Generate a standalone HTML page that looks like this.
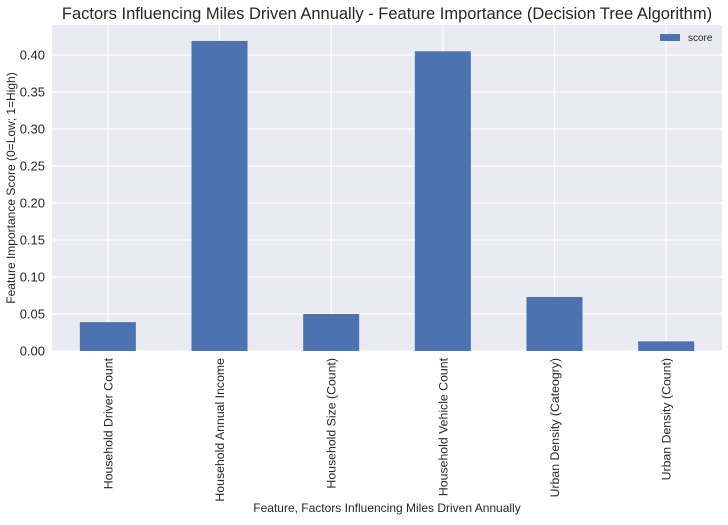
<!DOCTYPE html>
<html><head><meta charset="utf-8"><style>
body{margin:0;background:#fff;font-family:"Liberation Sans",sans-serif;}
svg text{font-family:"Liberation Sans",sans-serif;}
</style></head><body>
<svg id="c" width="728" height="520"></svg>
<script>
const categories=["Household Driver Count","Household Annual Income","Household Size (Count)","Household Vehicle Count","Urban Density (Cateogry)","Urban Density (Count)"];
const scores=[0.039,0.419,0.050,0.405,0.073,0.013];
const yTicks=[0,0.05,0.10,0.15,0.20,0.25,0.30,0.35,0.40];
const yTickLabels=["0.00","0.05","0.10","0.15","0.20","0.25","0.30","0.35","0.40"];
const L=52,R=722,T=25,B=351;
const y=v=>B-v*740;
const bw=(R-L)/categories.length;
const x=i=>L+bw*(i+0.5);
const NS="http://www.w3.org/2000/svg";
const svg=document.getElementById('c');
function mk(tag,a,parent){const e=document.createElementNS(NS,tag);for(const k in a)e.setAttribute(k,a[k]);(parent||svg).appendChild(e);return e;}
const bg=mk('rect',{x:L,y:T,width:R-L,height:B-T,fill:'#eaeaf2'});


yTicks.forEach((t,i)=>{
  const g=mk('line',{x1:L,x2:R,y1:y(t),y2:y(t),stroke:'#fff','stroke-width':1.2});
  
  
  const tx=mk('text',{x:L-7,y:y(t)+4.5,'text-anchor':'end','font-size':13,fill:'#262626'});
  tx.textContent=yTickLabels[i];
  
  
});
categories.forEach((c,i)=>{
  const g=mk('line',{x1:x(i),x2:x(i),y1:T,y2:B,stroke:'#fff','stroke-width':1.2});
  
  
});
categories.forEach((c,i)=>{
  const r=mk('rect',{x:x(i)-28,y:y(scores[i]),width:56,height:B-y(scores[i]),fill:'#4c72b0'});
  
  
  const tx=mk('text',{transform:`translate(${x(i)+4.5},${B+7}) rotate(-90)`,'text-anchor':'end','font-size':12.3,fill:'#262626'});
  tx.textContent=c;
  
  
});
const t=mk('text',{x:387,y:19,'text-anchor':'middle','font-size':16.5,fill:'#262626'});
t.textContent="Factors Influencing Miles Driven Annually - Feature Importance (Decision Tree Algorithm)";


const xt=mk('text',{x:387,y:512,'text-anchor':'middle','font-size':12,fill:'#262626'});
xt.textContent="Feature, Factors Influencing Miles Driven Annually";


const yt=mk('text',{transform:'translate(15,188) rotate(-90)','text-anchor':'middle','font-size':12,fill:'#262626'});
yt.textContent="Feature Importance Score (0=Low; 1=High)";


const lg=mk('g',{});


mk('rect',{x:660,y:34,width:20,height:7,fill:'#4c72b0'},lg);
const lt=mk('text',{x:688,y:41,'font-size':10,fill:'#262626'},lg);
lt.textContent="score";
</script>
</body></html>
